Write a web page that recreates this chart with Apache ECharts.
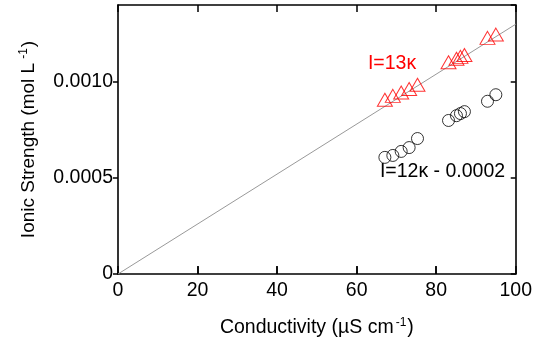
<!DOCTYPE html>
<html>
<head>
<meta charset="utf-8">
<script src="https://cdn.jsdelivr.net/npm/echarts@6/dist/echarts.min.js"></script>
<style>html,body{margin:0;padding:0;background:#fff}#c{width:535px;height:343px}</style>
</head>
<body>
<div id="c"></div>
<script>
// Data
var kappa = [67.1, 69.1, 71.2, 73.2, 75.3, 83.1, 85.1, 86.1, 87.1, 92.9, 95.0];
var ionicMeasured = [0.000907, 0.000927, 0.000945, 0.000963, 0.000985, 0.001102, 0.00112, 0.00113, 0.00114, 0.001229, 0.001246];
var ionicEstimated = [0.000607, 0.000617, 0.000638, 0.000658, 0.000705, 0.000799, 0.000824, 0.000835, 0.000845, 0.000899, 0.000933];
var fitX = [0, 100];
var fitY = [0, 0.0013];
var xTicks = [20, 40, 60, 80];
var yTickLabels = ['0', '0.0005', '0.0010'];

var FONT = 'Liberation Sans, Arial, sans-serif';
var TICK_LEN = 0.00004; // inner tick length on the bottom axis, in axis units
var chart = echarts.init(document.getElementById('c'));
function pairs(xs, ys) { return xs.map(function (x, i) { return [x, ys[i]]; }); }

chart.setOption({
  animation: false,
  grid: { left: 118, right: 17, top: 5, bottom: 68 },
  xAxis: [{
    type: 'value', min: 0, max: 100, interval: 20, position: 'bottom',
    axisLine: { show: true, onZero: false, lineStyle: { color: '#000', width: 1.6 } },
    axisTick: { show: true, inside: true, length: 8, lineStyle: { color: '#000', width: 1.5 } },
    axisLabel: { color: '#000', fontFamily: FONT, fontSize: 19.5, margin: 7 },
    splitLine: { show: false },
    name: 'Conductivity (µS cm{sup|-1})', nameLocation: 'middle', nameGap: 43,
    nameTextStyle: { color: '#000', fontFamily: FONT, fontSize: 19.5,
      rich: { sup: { fontSize: 12, fontFamily: FONT, color: '#000', verticalAlign: 'top', padding: [0, 1, 10, 2] } } }
  }, {
    type: 'value', min: 0, max: 100, interval: 20, position: 'top',
    axisLine: { show: true, onZero: false, lineStyle: { color: '#000', width: 1.6 } },
    axisTick: { show: true, inside: true, length: 7, lineStyle: { color: '#000', width: 1.5 } },
    axisLabel: { show: false }, splitLine: { show: false }
  }],
  yAxis: [{
    type: 'value', min: 0, max: 0.0014, interval: 0.0005, position: 'left',
    axisLine: { show: true, onZero: false, lineStyle: { color: '#000', width: 1.6 } },
    axisTick: { show: true, inside: false, length: 5, lineStyle: { color: '#000', width: 1.5 } },
    axisLabel: { color: '#000', fontFamily: FONT, fontSize: 19.5, margin: 5, showMaxLabel: false,
      formatter: function (v) { var i = Math.round(v / 0.0005); return yTickLabels[i] !== undefined ? yTickLabels[i] : ''; } },
    splitLine: { show: false },
    name: 'Ionic Strength (mol L{sup|-1})', nameLocation: 'middle', nameGap: 78,
    nameTextStyle: { color: '#000', fontFamily: FONT, fontSize: 19,
      rich: { sup: { fontSize: 12, fontFamily: FONT, color: '#000', verticalAlign: 'top', padding: [0, 1, 10, 4] } } }
  }, {
    type: 'value', min: 0, max: 0.0014, interval: 0.0005, position: 'right',
    axisLine: { show: true, onZero: false, lineStyle: { color: '#000', width: 1.6 } },
    axisTick: { show: true, inside: true, length: 5, lineStyle: { color: '#000', width: 1.5 } },
    axisLabel: { show: false }, splitLine: { show: false }
  }],
  series: [{
    type: 'line', data: pairs(fitX, fitY), showSymbol: false, symbol: 'none',
    lineStyle: { color: '#999', width: 1 }, z: 1,
    markLine: {
      silent: true, symbol: ['none', 'none'], label: { show: false },
      lineStyle: { color: '#000', width: 1.5, type: 'solid' },
      data: xTicks.map(function (t) { return [{ coord: [t, 0] }, { coord: [t, TICK_LEN] }]; })
    }
  }, {
    type: 'scatter', data: pairs(kappa, ionicMeasured), symbol: 'triangle', symbolSize: [15, 13],
    itemStyle: { color: 'rgba(0,0,0,0)', borderColor: '#ff0000', borderWidth: 1 }, z: 3,
    markPoint: { symbol: 'circle', symbolSize: 0, data: [{ coord: [68.9, 0.001094] }],
      label: { show: true, position: 'inside', formatter: 'I=13κ', color: '#ff0000', fontFamily: FONT, fontSize: 19.5 } }
  }, {
    type: 'scatter', data: pairs(kappa, ionicEstimated), symbol: 'circle', symbolSize: 12,
    itemStyle: { color: 'rgba(0,0,0,0)', borderColor: '#000', borderWidth: 1 }, z: 3,
    markPoint: { symbol: 'circle', symbolSize: 0, data: [{ coord: [81.6, 0.000532] }],
      label: { show: true, position: 'inside', formatter: 'I=12κ - 0.0002', color: '#000', fontFamily: FONT, fontSize: 19.5 } }
  }]
});
</script>
</body>
</html>
